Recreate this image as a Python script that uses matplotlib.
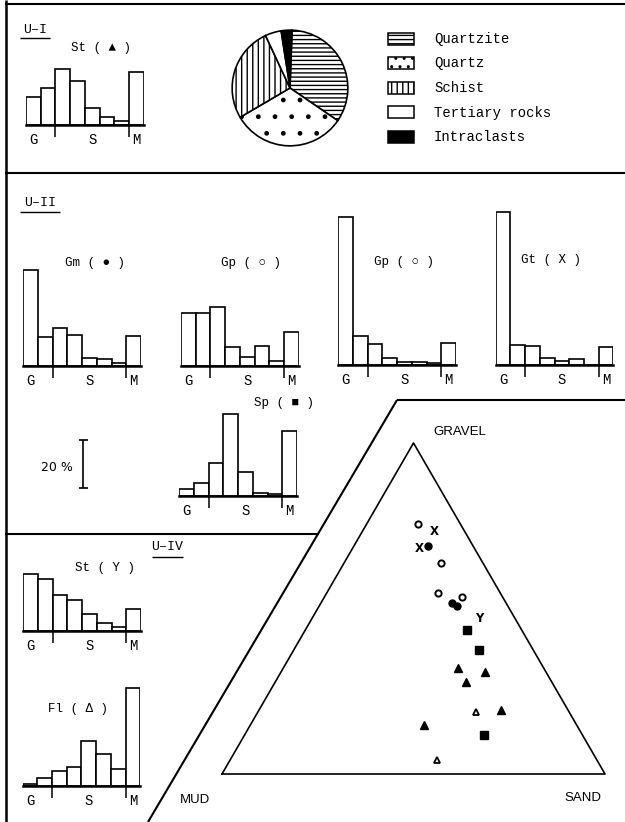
import matplotlib
matplotlib.use('Agg')
import matplotlib.pyplot as plt
import numpy as np
from matplotlib.patches import Rectangle

W, H = 625, 822
MONO = ['Liberation Mono', 'DejaVu Sans Mono', 'DejaVu Sans']
NARROW = ['Liberation Sans', 'DejaVu Sans']
plt.rcParams['font.family'] = MONO
plt.rcParams['hatch.linewidth'] = 1.0

# ---------------- data ----------------
tick_labels = ['G', 'S', 'M']          # gravel / sand / mud classes
# grain-size histograms (percent per class, 8 classes)
st_u1 = [11.7, 15.4, 23.1, 18.2, 6.9, 3.2, 1.8, 22.0]
gm = [39.7, 11.9, 15.8, 12.7, 3.2, 2.9, 1.4, 12.4]
gp_a = [21.8, 21.8, 24.3, 7.7, 3.9, 8.4, 2.1, 14.0]
gp_b = [61.0, 12.1, 8.5, 2.8, 1.1, 1.1, 1.0, 9.0]
gt = [63.1, 8.3, 8.0, 3.0, 1.7, 2.5, 0.0, 7.6]
sp = [2.9, 5.5, 13.8, 33.9, 10.0, 1.1, 0.8, 27.0]
st_y = [23.3, 21.4, 14.8, 12.7, 6.9, 3.1, 1.4, 9.1]
fl = [0.7, 3.3, 6.1, 7.6, 18.6, 13.3, 6.9, 40.5]

# clast composition pie (percent)
pie_labels = ['Quartzite', 'Quartz', 'Schist', 'Tertiary rocks', 'Intraclasts']
pie_values = [34.0, 32.0, 26.5, 4.5, 3.0]
pie_hatches = ['----', '.', '|||', '', '']
pie_colors = ['white', 'white', 'white', 'white', 'black']

# ternary compositions: gravel, sand, mud (percent)
gm_g, gm_s, gm_m = [68.9, 51.6, 50.8], [19.4, 34.3, 36.0], [11.7, 14.1, 13.2]
gp_g, gp_s, gp_m = [75.5, 63.8, 54.8, 53.4], [13.4, 25.4, 29.0, 36.0], [11.1, 10.8, 16.2, 10.6]
gt_g, gt_s, gt_m = [73.2, 68.2], [18.9, 17.3], [7.9, 14.5]
sp_g, sp_s, sp_m = [43.5, 37.5, 11.8], [42.2, 48.4, 62.6], [14.3, 14.1, 25.6]
st_g, st_s, st_m = [31.9, 30.9, 27.9, 19.3, 14.8], [45.6, 53.1, 49.8, 63.1, 45.4], [22.5, 16.0, 22.3, 17.6, 39.8]
fl_g, fl_s, fl_m = [18.8, 4.2], [56.9, 54.1], [24.3, 41.7]
sty_g, sty_s, sty_m = [47.0], [43.7], [9.3]

# ---------------- figure ----------------
fig = plt.figure(figsize=(6.25, 8.22), dpi=100)
ax0 = fig.add_axes([0, 0, 1, 1])
ax0.set_xlim(0, W)
ax0.set_ylim(H, 0)
ax0.axis('off')

LW = 1.5
def line(xs, ys, lw=LW):
    ax0.plot(xs, ys, color='black', lw=lw, solid_capstyle='butt')

line([5.5, 5.5], [0, H], 1.8)
line([5, W], [4, 4])
line([5, W], [173, 173])
line([5, 318.6], [534, 534])
line([397, W], [400, 400])
line([397, 148], [400, 822])

def label_u(txt, x, y, x0, x1, yu):
    ax0.text(x, y, txt, ha='center', va='center', fontsize=9.5)
    line([x0, x1], [yu, yu], 1.0)

label_u('U\u2013I', 35, 30, 20, 50, 38)
label_u('U\u2013II', 40, 203, 20, 60, 212)
label_u('U\u2013IV', 167, 547, 152, 183, 557)

# histogram helper
PX_PER_PCT = 2.42
BW = 14.7
def hist(values, left, base, title, txy):
    n = len(values)
    hpx = 165
    ax = fig.add_axes([left / W, 1 - base / H, n * BW / W, hpx / H])
    ax.set_facecolor('none')
    x = np.arange(n)
    ax.bar(x, values, width=1.0, color='white', edgecolor='black', linewidth=1.2, zorder=2)
    ax.set_xlim(-0.5, n - 0.5)
    ax.set_ylim(0, hpx / PX_PER_PCT)
    for s in ['top', 'right', 'left']:
        ax.spines[s].set_visible(False)
    ax.spines['bottom'].set_linewidth(1.8)
    ax.spines['bottom'].set_zorder(3)
    ax.set_yticks([])
    ax.set_xticks([0, 4, 7], tick_labels)
    ax.set_xticks([1.5, 6.5], minor=True)
    ax.tick_params(axis='x', which='major', length=0, pad=6, labelsize=10)
    ax.tick_params(axis='x', which='minor', length=8.5, width=1.1, direction='out')
    ax0.text(txy[0], txy[1], title, ha='center', va='center', fontsize=9)
    return ax

hist(st_u1, 26, 125, 'St ( \u25B2 )', (101, 48))
hist(gm, 23.3, 366, 'Gm ( \u25CF )', (95, 263))
hist(gp_a, 181, 366, 'Gp ( \u25CB )', (251, 263))
hist(gp_b, 338.3, 365, 'Gp ( \u25CB )', (404, 262))
hist(gt, 495.7, 365, 'Gt ( X )', (551, 260))
hist(sp, 179.3, 496, 'Sp ( \u25A0 )', (284, 403))
hist(st_y, 23.3, 630.7, 'St ( Y )', (105, 568))
hist(fl, 22.7, 785.7, 'Fl ( \u0394 )', (78, 709))

# 20 % scale bar
line([83.3, 83.3], [440, 488.3], 1.2)
line([79, 87.6], [440, 440], 1.2)
line([79, 87.6], [488.3, 488.3], 1.2)
ax0.text(57, 467, '20 %', ha='center', va='center', fontsize=9, family=['DejaVu Sans'])

# pie
axp = fig.add_axes([231 / W, 1 - 147 / H, 118 / W, 118 / H])
wedges, _ = axp.pie(pie_values, colors=pie_colors, startangle=88, counterclock=False,
                    wedgeprops=dict(edgecolor='black', linewidth=1.2))
for w, h in zip(wedges, pie_hatches):
    w.set_hatch(h)
axp.set_xlim(-1.02, 1.02)
axp.set_ylim(-1.02, 1.02)

# legend (manual)
for i, (lab, h, c) in enumerate(zip(pie_labels, pie_hatches, pie_colors)):
    yc = 39 + 24.5 * i
    hh = h if h != '.' else '..'
    ax0.add_patch(Rectangle((388, yc - 6), 26, 12, facecolor=c, edgecolor='black',
                            hatch=hh, lw=1.1))
    ax0.text(434, yc, lab, ha='left', va='center', fontsize=10)

# ternary diagram
SQ = np.sqrt(3) / 2
axt = fig.add_axes([222 / W, 1 - 774 / H, 383 / W, 331 / H])
axt.set_xlim(0, 1)
axt.set_ylim(0, SQ)
axt.axis('off')
axt.plot([0, 1, 0.5, 0], [0, 0, SQ, 0], color='black', lw=1.2, clip_on=False)

def tern(g, s, m):
    g, s, m = map(np.asarray, (g, s, m))
    tot = g + s + m
    return (s + 0.5 * g) / tot, g / tot * SQ

x, y = tern(gp_g, gp_s, gp_m)
axt.plot(x, y, 'o', ms=4.5, mfc='white', mec='black', mew=1.4, ls='none', clip_on=False)
x, y = tern(gm_g, gm_s, gm_m)
axt.plot(x, y, 'o', ms=5, color='black', ls='none', clip_on=False)
x, y = tern(sp_g, sp_s, sp_m)
axt.plot(x, y, 's', ms=6, color='black', ls='none', clip_on=False)
x, y = tern(st_g, st_s, st_m)
axt.plot(x, y, '^', ms=6, color='black', ls='none', clip_on=False)
x, y = tern(fl_g, fl_s, fl_m)
axt.plot(x, y, '^', ms=5, mfc='white', mec='black', mew=1.3, ls='none', clip_on=False)
x, y = tern(gt_g, gt_s, gt_m)
for xi, yi in zip(x, y):
    axt.text(xi, yi, 'X', ha='center', va='center', fontsize=8.5, fontweight='bold',
             family=['DejaVu Sans'])
x, y = tern(sty_g, sty_s, sty_m)
for xi, yi in zip(x, y):
    axt.text(xi, yi, 'Y', ha='center', va='center', fontsize=8.5, fontweight='bold',
             family=['DejaVu Sans'])

ax0.text(460, 432, 'GRAVEL', ha='center', va='center', fontsize=9.5, family=NARROW)
ax0.text(195, 800, 'MUD', ha='center', va='center', fontsize=9.5, family=NARROW)
ax0.text(583, 798, 'SAND', ha='center', va='center', fontsize=9.5, family=NARROW)

fig.savefig('out.png', dpi=100)
